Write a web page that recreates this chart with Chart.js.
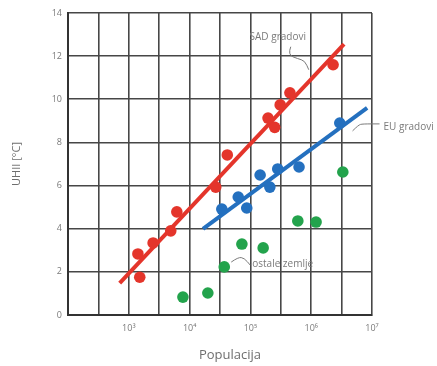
<!DOCTYPE html>
<html>
<head>
<meta charset="utf-8">
<script src="https://cdn.jsdelivr.net/npm/chart.js@4.4.1/dist/chart.umd.min.js"></script>
<style>
html,body{margin:0;padding:0;background:#fff;}
#wrap{width:437px;height:366px;}
</style>
</head>
<body>
<div id="wrap"><canvas id="uhiChart" width="437" height="366"></canvas></div>
<script>
// values: x = log10(population), y = UHII in degC
const sadLogPop = [3.15, 3.18, 3.40, 3.69, 3.79, 4.43, 4.62, 5.29, 5.40, 5.49, 5.65, 6.36];
const sadUhi    = [2.83, 1.75, 3.34, 3.90, 4.78, 5.93, 7.42, 9.13, 8.70, 9.74, 10.30, 11.60];
const euLogPop  = [4.53, 4.80, 4.94, 5.16, 5.32, 5.45, 5.80, 6.47];
const euUhi     = [4.91, 5.47, 4.96, 6.49, 5.93, 6.77, 6.86, 8.90];
const otherLogPop = [3.89, 4.30, 4.57, 4.86, 5.21, 5.78, 6.08, 6.52];
const otherUhi    = [0.83, 1.02, 2.23, 3.29, 3.11, 4.36, 4.31, 6.63];
// fitted lines (end points)
const sadFitLogPop = [2.85, 6.54];
const sadFitUhi    = [1.48, 12.56];
const euFitLogPop  = [4.22, 6.92];
const euFitUhi     = [3.99, 9.60];
// tick labels
const xTickLabels = {3:'10³', 4:'10⁴', 5:'10⁵', 6:'10⁶', 7:'10⁷'};
const labelSad = 'SAD gradovi', labelEu = 'EU gradovi', labelOther = 'ostale zemlje';
const xTitle = 'Populacija', yTitle = 'UHII [°C]';

function pts(xs, ys){ return xs.map((x,i)=>({x:x, y:ys[i]})); }

const RED='#e4352b', BLUE='#2470bf', GREEN='#23a34c', GRID='#474747', TXT='#7a7a7a';

// text notes with little curly leaders (leader offsets in px from the note anchor)
const notes = [
  {text:labelSad, x:5.45, y:12.9, align:'center', leader:[[13,10],[10,18],[20,22],[27,24],[31,33]]},
  {text:labelEu, x:7.19, y:8.72, align:'left', leader:[[-31,4],[-25,-2],[-21,-3],[-4,-3]]},
  {text:labelOther, x:5.03, y:2.36, align:'left', leader:[[-21,-2],[-14,-7],[-8,-6],[-2,1]]}
];

const notesPlugin = {
  id:'notes',
  afterDatasetsDraw(c){
    const ctx=c.ctx, xs=c.scales.x, ys=c.scales.y;
    ctx.save();
    ctx.font='10px "Open Sans"';
    ctx.fillStyle=TXT;
    ctx.strokeStyle='#7a7a7a';
    ctx.lineWidth=1;
    ctx.textBaseline='middle';
    notes.forEach(n=>{
      const px=xs.getPixelForValue(n.x), py=ys.getPixelForValue(n.y);
      ctx.textAlign=n.align;
      ctx.fillText(n.text, px, py);
      const L=n.leader;
      ctx.beginPath();
      ctx.moveTo(px+L[0][0], py+L[0][1]);
      for(let i=1;i<L.length-1;i++){
        const mx=(L[i][0]+L[i+1][0])/2, my=(L[i][1]+L[i+1][1])/2;
        ctx.quadraticCurveTo(px+L[i][0], py+L[i][1], px+mx, py+my);
      }
      const last=L[L.length-1];
      ctx.lineTo(px+last[0], py+last[1]);
      ctx.stroke();
    });
    // x axis title, sits a bit right of the plot centre in the original
    ctx.font='13px "Open Sans"';
    ctx.fillStyle='#6e6e6e';
    ctx.textAlign='center';
    ctx.fillText(xTitle, (xs.left+xs.right)/2+10, 355);
    ctx.restore();
  }
};

const dot = (color)=>({backgroundColor:color, borderWidth:0, pointRadius:5.8, pointHoverRadius:5.8});

new Chart(document.getElementById('uhiChart'), {
  type:'scatter',
  data:{datasets:[
    Object.assign({label:labelSad, data:pts(sadLogPop, sadUhi)}, dot(RED)),
    Object.assign({label:labelEu, data:pts(euLogPop, euUhi)}, dot(BLUE)),
    Object.assign({label:labelOther, data:pts(otherLogPop, otherUhi)}, dot(GREEN)),
    {type:'line', data:pts(sadFitLogPop, sadFitUhi), borderColor:RED, borderWidth:4, pointRadius:0, fill:false},
    {type:'line', data:pts(euFitLogPop, euFitUhi), borderColor:BLUE, borderWidth:4, pointRadius:0, fill:false}
  ]},
  options:{
    responsive:false, animation:false,
    layout:{padding:{left:0, right:65, top:13, bottom:0}},
    plugins:{legend:{display:false}, tooltip:{enabled:false}},
    scales:{
      x:{type:'linear', min:2, max:7,
        ticks:{stepSize:0.5, autoSkip:false, maxRotation:0, padding:8, color:TXT,
          font:{family:'"Open Sans"', size:9},
          callback:(v)=>xTickLabels[v]||''},
        grid:{color:GRID, lineWidth:1.6, drawTicks:false},
        border:{color:'#333', width:2},
        afterFit:(s)=>{ s.height=51; }
      },
      y:{min:0, max:14,
        ticks:{stepSize:2, padding:6, color:TXT, font:{family:'"Open Sans"', size:9}},
        grid:{color:GRID, lineWidth:1.6, drawTicks:false},
        border:{color:'#333', width:2},
        title:{display:true, text:yTitle, color:'#6e6e6e', font:{family:'"Open Sans"', size:11}, padding:{top:10, bottom:0}},
        afterFit:(s)=>{ s.width=68; }
      }
    }
  },
  plugins:[notesPlugin]
});
</script>
</body>
</html>
